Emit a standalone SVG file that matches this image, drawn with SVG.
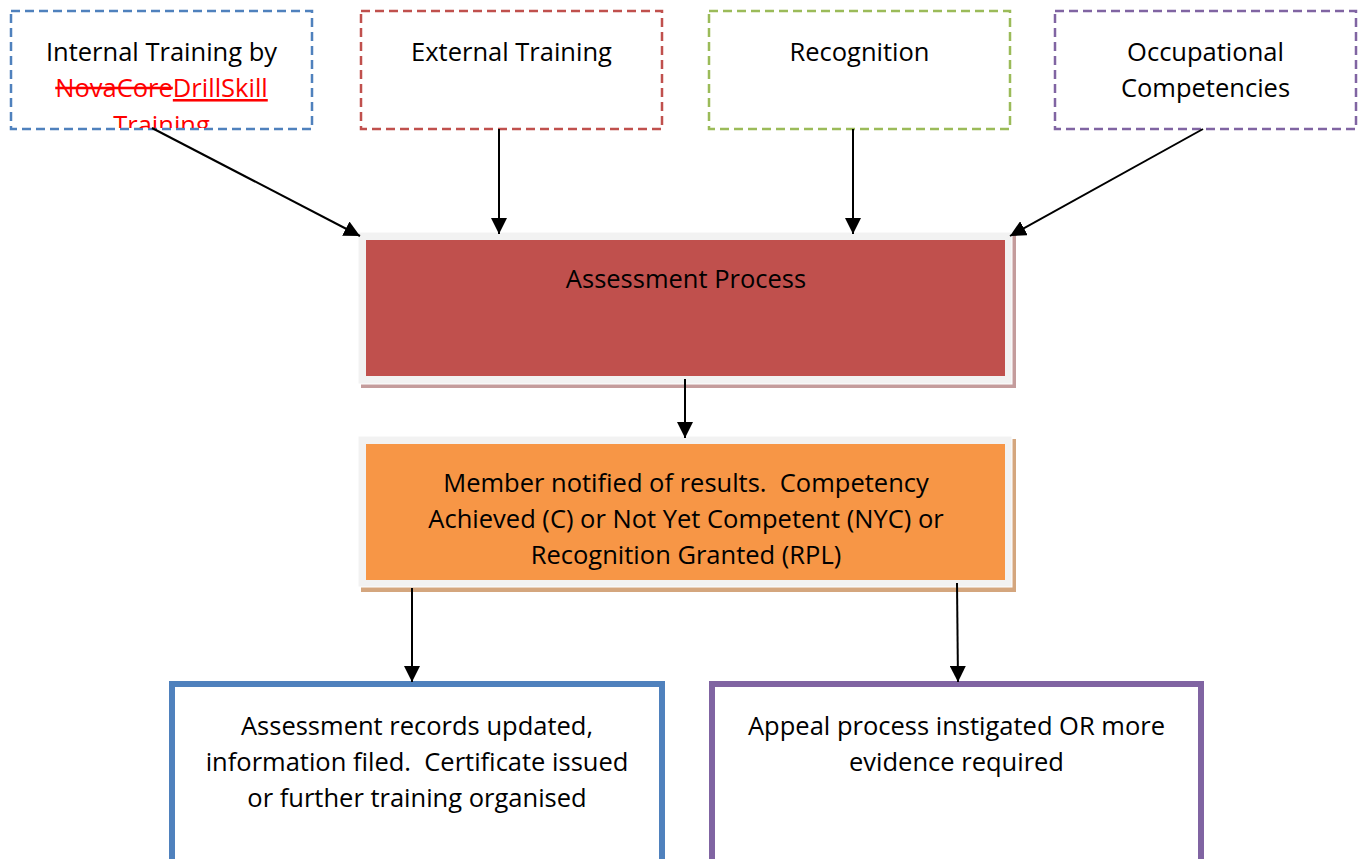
<svg xmlns="http://www.w3.org/2000/svg" width="1366" height="859" viewBox="0 0 1366 859">
<style>
text{font-family:"Open Sans","Liberation Sans",sans-serif;font-size:25.5px;fill:#000;text-anchor:middle;white-space:pre}
.dash{fill:#fff;stroke-width:2.5;stroke-dasharray:9 5}
.con{stroke:#000;stroke-width:2;fill:none;marker-end:url(#ah)}
.frame{fill:#f2f2f2;stroke:#fff;stroke-width:1}
.big{fill:#fff;stroke-width:6}
.red{fill:#ff0000}
</style>
<defs>
<marker id="ah" markerUnits="userSpaceOnUse" markerWidth="18" markerHeight="16" refX="16" refY="8" orient="auto">
<path d="M0,0 L16,8 L0,16 Z" fill="#000"/>
</marker>
<clipPath id="clip1"><rect x="12" y="12" width="299" height="116"/></clipPath>
</defs>
<rect width="1366" height="859" fill="#fff"/>

<g id="internal">
<rect class="dash" x="11" y="11" width="301" height="118" stroke="#4f81bd"/>
<g clip-path="url(#clip1)">
<text x="161.5" y="61">Internal Training by</text>
<text x="161.5" y="97" class="red"><tspan text-decoration="line-through">NovaCore</tspan><tspan text-decoration="underline">DrillSkill</tspan></text>
<text x="161.5" y="134" class="red">Training</text>
</g>
</g>

<g id="external">
<rect class="dash" x="361" y="11" width="301" height="118" stroke="#c0504d"/>
<text x="511.5" y="61">External Training</text>
</g>

<g id="recognition">
<rect class="dash" x="709" y="11" width="301" height="118" stroke="#9bbb59"/>
<text x="859.5" y="61">Recognition</text>
</g>

<g id="occupational">
<rect class="dash" x="1055" y="11" width="301" height="118" stroke="#8064a2"/>
<text x="1205.5" y="61">Occupational</text>
<text x="1205.5" y="97">Competencies</text>
</g>

<g id="assessment">
<rect x="361" y="235" width="655" height="153" fill="#c49c9c"/>
<rect class="frame" x="358" y="232" width="654" height="152"/>
<rect x="366" y="240" width="639" height="136" fill="#c0504d"/>
<text x="686" y="288">Assessment Process</text>
</g>

<g id="notified">
<rect x="361" y="439" width="655" height="153" fill="#d4a67e"/>
<rect class="frame" x="358" y="436" width="654" height="151"/>
<rect x="366" y="444" width="639" height="136" fill="#f79646"/>
<text x="686" y="492" xml:space="preserve">Member notified of results.  Competency</text>
<text x="686" y="528">Achieved (C) or Not Yet Competent (NYC) or</text>
<text x="686" y="564">Recognition Granted (RPL)</text>
</g>

<g id="records">
<rect class="big" x="172" y="684" width="490" height="220" stroke="#4f81bd"/>
<text x="417" y="735">Assessment records updated,</text>
<text x="417" y="771" xml:space="preserve">information filed.  Certificate issued</text>
<text x="417" y="807">or further training organised</text>
</g>

<g id="appeal">
<rect class="big" x="712" y="684" width="489" height="220" stroke="#8064a2"/>
<text x="956.5" y="735">Appeal process instigated OR more</text>
<text x="956.5" y="771">evidence required</text>
</g>

<g id="connectors">
<line class="con" x1="152" y1="128" x2="360" y2="236"/>
<line class="con" x1="499" y1="129" x2="499" y2="234"/>
<line class="con" x1="853" y1="129" x2="853" y2="234"/>
<line class="con" x1="1203" y1="129" x2="1010" y2="236"/>
<line class="con" x1="685" y1="379" x2="685" y2="438"/>
<line class="con" x1="412" y1="588" x2="412" y2="682"/>
<line class="con" x1="957" y1="583" x2="958" y2="682"/>
</g>
</svg>
